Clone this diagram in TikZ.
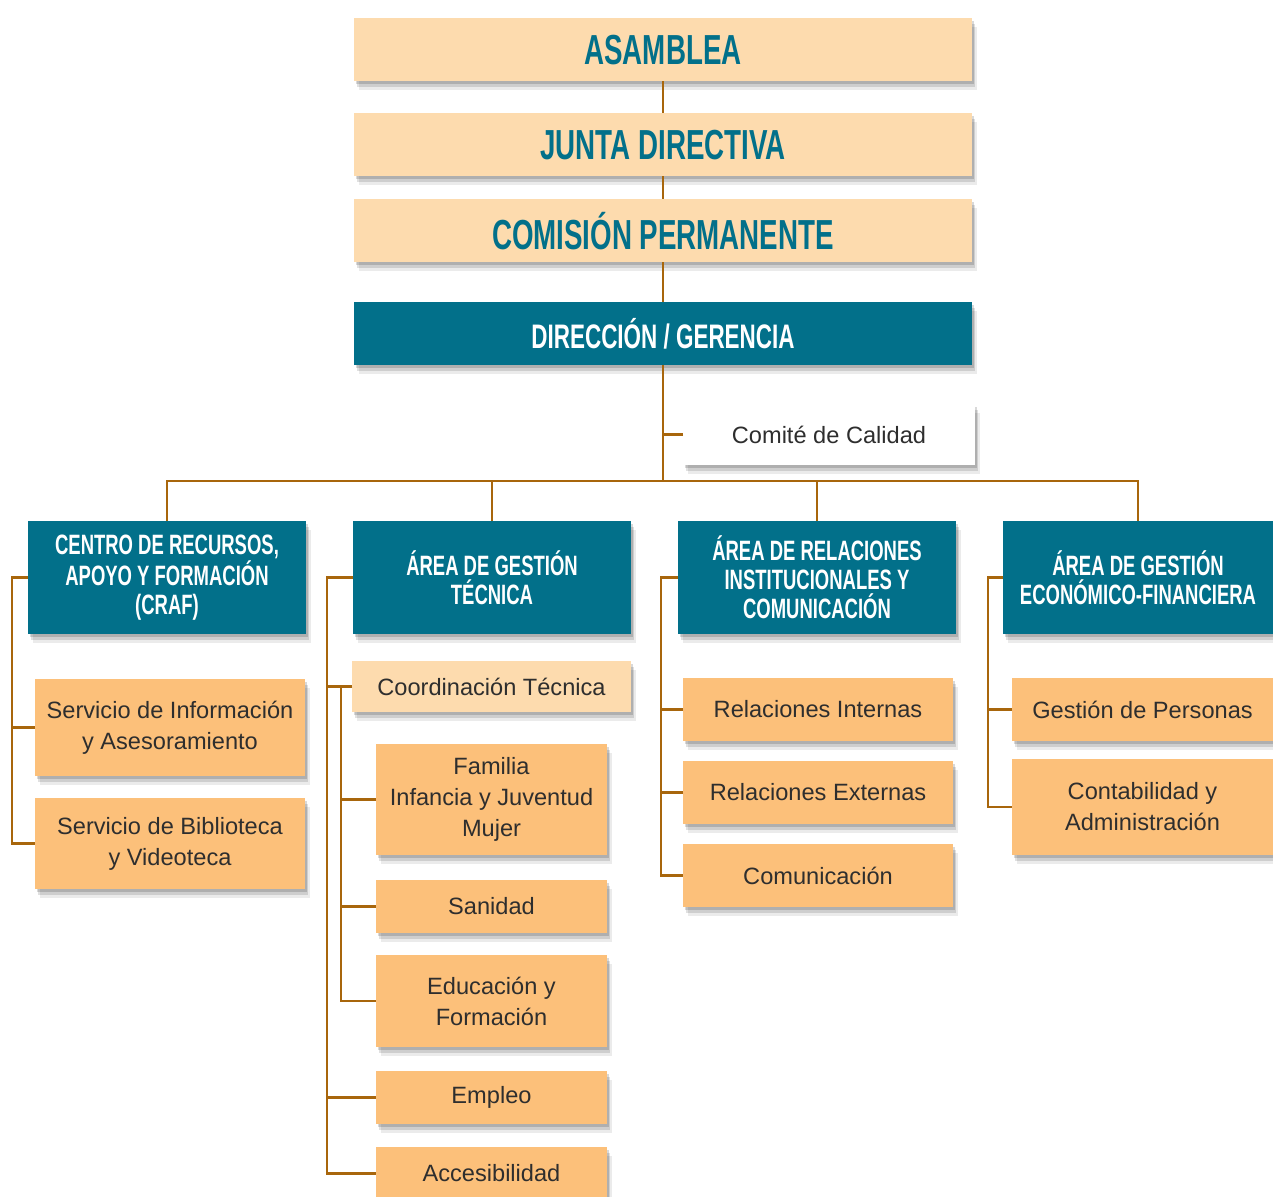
\documentclass[tikz,border=0pt]{standalone}
\usepackage{fontspec}
\setmainfont{Liberation Sans}
\newfontfamily\headfont[FakeStretch=0.66]{Liberation Sans}
\usetikzlibrary{shadows}
\definecolor{peach}{HTML}{FDDBAE}
\definecolor{apricot}{HTML}{FCC07A}
\definecolor{petrol}{HTML}{02708A}
\definecolor{ink}{HTML}{2E2E2E}
\definecolor{bronze}{HTML}{A8660C}
\tikzstyle{box} = [rectangle, inner sep=0pt, outer sep=0pt, align=center,
  drop shadow={shadow xshift=2.5pt, shadow yshift=-4.5pt, fill=black, opacity=0.08},
  drop shadow={shadow xshift=1.5pt, shadow yshift=-3pt, fill=black, opacity=0.12},
  drop shadow={shadow xshift=0.8pt, shadow yshift=-1.5pt, fill=black, opacity=0.15}]
\tikzstyle{upper} = [box, fill=peach, text=petrol, minimum width=309pt, minimum height=31.5pt,
  font=\headfont\bfseries\fontsize{21}{24}\selectfont]
\tikzstyle{area} = [box, fill=petrol, text=white, minimum width=139pt, minimum height=56.5pt,
  font=\headfont\bfseries\fontsize{14}{14.5}\selectfont]
\tikzstyle{item} = [box, fill=apricot, text=ink, minimum height=31.5pt,
  font=\fontsize{11.8}{15.5}\selectfont]
\tikzstyle{link} = [draw=bronze, line width=1.1pt]

\begin{document}
\begin{tikzpicture}[x=0.5pt, y=-0.5pt]
\fill[white] (0,0) rectangle (1273,1197);
\useasboundingbox (0,0) rectangle (1273,1197);
% governing bodies
\node [upper] (asamblea) at (663,50) {ASAMBLEA};
\node [upper] (junta) at (663,145) {JUNTA DIRECTIVA};
\node [upper] (comision) at (663,231) {COMISIÓN PERMANENTE};
\node [upper, fill=petrol, text=white, font=\headfont\bfseries\fontsize{17}{19}\selectfont] (direccion) at (663,334) {DIRECCIÓN / GERENCIA};
\node [item, fill=white, minimum width=146pt, minimum height=30.5pt] (comite) at (829,434.5) {Comité de Calidad};
% areas
\node [area] (craf) at (167,577.5) {CENTRO DE RECURSOS,\\APOYO Y FORMACIÓN\\(CRAF)};
\node [area] (tecnica) at (492,577.5) {ÁREA DE GESTIÓN\\TÉCNICA};
\node [area] (relac) at (817,577.5) {ÁREA DE RELACIONES\\INSTITUCIONALES Y\\COMUNICACIÓN};
\node [area, minimum width=135pt] (econ) at (1138,577.5) {ÁREA DE GESTIÓN\\ECONÓMICO-FINANCIERA};
% CRAF
\node [item, minimum width=135pt, minimum height=48.5pt] (info) at (170,727.5) {Servicio de Información\\y Asesoramiento};
\node [item, minimum width=135pt, minimum height=45.5pt] (biblio) at (170,843.5) {Servicio de Biblioteca\\y Videoteca};
% gestion tecnica
\node [item, fill=peach, minimum width=139.5pt, minimum height=25.5pt] (coord) at (491.5,686.5) {Coordinación Técnica};
\node [item, minimum width=115.5pt, minimum height=55.5pt] (familia) at (491.5,799.5) {Familia\\Infancia y Juventud\\Mujer};
\node [item, minimum width=115.5pt, minimum height=26.5pt] (sanidad) at (491.5,906.5) {Sanidad};
\node [item, minimum width=115.5pt, minimum height=46pt] (educ) at (491.5,1001) {Educación y\\Formación};
\node [item, minimum width=115.5pt, minimum height=26.5pt] (empleo) at (491.5,1097.5) {Empleo};
\node [item, minimum width=115.5pt, minimum height=26.5pt] (acces) at (491.5,1173.5) {Accesibilidad};
% relaciones
\node [item, minimum width=135pt] (internas) at (818,709.5) {Relaciones Internas};
\node [item, minimum width=135pt] (externas) at (818,792.5) {Relaciones Externas};
\node [item, minimum width=135pt] (comunic) at (818,875.5) {Comunicación};
% economico
\node [item, minimum width=130.5pt] (personas) at (1142.5,709.5) {Gestión de Personas};
\node [item, minimum width=130.5pt, minimum height=48pt] (contab) at (1142.5,807) {Contabilidad y\\Administración};
% connectors
\draw[link] (asamblea) -- (junta);
\draw[link] (junta) -- (comision);
\draw[link] (comision) -- (direccion);
\coordinate (bus) at (663,481);
\draw[link] (direccion) -- (bus);
\draw[link] (comite.west) -- (comite.west -| bus);
\draw[link] (craf.north) |- (bus) -| (econ.north);
\draw[link] (tecnica.north) -- (tecnica.north |- bus);
\draw[link] (relac.north) -- (relac.north |- bus);
\draw[link] (craf.west) -- ++(-16,0) coordinate (c1) |- (biblio.west);
\draw[link] (info.west) -- (info.west -| c1);
\draw[link] (tecnica.west) -- ++(-26,0) coordinate (c2) |- (acces.west);
\foreach \n in {coord, empleo} \draw[link] (\n.west) -- (\n.west -| c2);
\draw[link] (coord.west) -- ++(-11,0) coordinate (c3) |- (educ.west);
\foreach \n in {familia, sanidad} \draw[link] (\n.west) -- (\n.west -| c3);
\draw[link] (relac.west) -- ++(-17,0) coordinate (c4) |- (comunic.west);
\foreach \n in {internas, externas} \draw[link] (\n.west) -- (\n.west -| c4);
\draw[link] (econ.west) -- ++(-15,0) coordinate (c5) |- (contab.west);
\draw[link] (personas.west) -- (personas.west -| c5);
\end{tikzpicture}
\end{document}
